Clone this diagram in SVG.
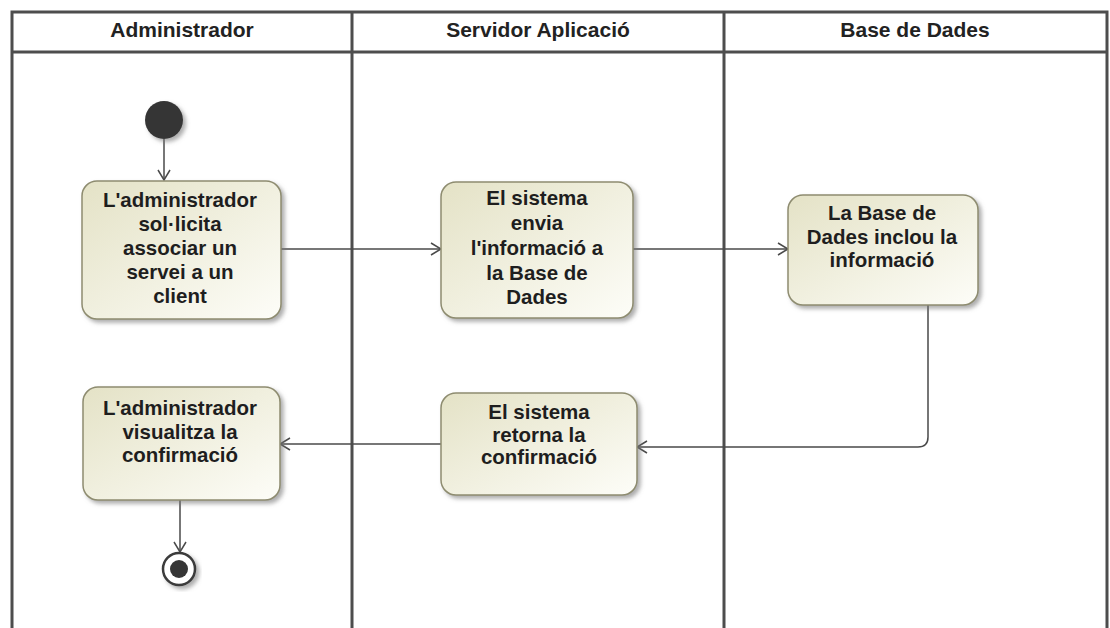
<svg xmlns="http://www.w3.org/2000/svg" width="1110" height="628" viewBox="0 0 1110 628">
<style>
.lane{stroke:#4d4d4d;stroke-width:3;fill:none}
.hdr{font-family:"Liberation Sans",Arial,sans-serif;font-weight:bold;font-size:21px;fill:#222;text-anchor:middle}
.box{fill:url(#g);stroke:#8e8c70;stroke-width:1.5;filter:url(#sh)}
.t{font-family:"Liberation Sans",Arial,sans-serif;font-weight:bold;font-size:20.5px;fill:#1e1e1e;text-anchor:middle}
.c{stroke:#4a4a4a;stroke-width:1.5;fill:none;marker-end:url(#ah)}
</style>
<defs>
<linearGradient id="g" x1="0" y1="0" x2="1" y2="1">
<stop offset="0" stop-color="#e4e2c6"/>
<stop offset="1" stop-color="#fdfdf8"/>
</linearGradient>
<filter id="sh" x="-10%" y="-10%" width="130%" height="130%">
<feDropShadow dx="3" dy="3" stdDeviation="2" flood-color="#777" flood-opacity="0.6"/>
</filter>
<marker id="ah" viewBox="0 0 12 14" refX="11" refY="7" markerWidth="12" markerHeight="14" markerUnits="userSpaceOnUse" orient="auto">
<path d="M1,1 L11,7 L1,13" fill="none" stroke="#4a4a4a" stroke-width="1.5"/>
</marker>
</defs>
<rect width="1110" height="628" fill="#fff"/>
<g id="lanes">
<path class="lane" d="M12,628 V12 H1107 V628 M12,52 H1107 M352,12 V628 M724,12 V628"/>
<text class="hdr" x="182" y="37">Administrador</text>
<text class="hdr" x="538" y="37">Servidor Aplicació</text>
<text class="hdr" x="915" y="37">Base de Dades</text>
</g>
<g id="connectors">
<line class="c" x1="164" y1="139" x2="164" y2="180"/>
<line class="c" x1="281" y1="249" x2="441" y2="249"/>
<line class="c" x1="633" y1="249" x2="788" y2="249"/>
<path class="c" d="M928,305 V437 Q928,447 918,447 H637"/>
<line class="c" x1="441" y1="444" x2="280" y2="444"/>
<line class="c" x1="180" y1="500" x2="180" y2="552"/>
</g>
<g id="start">
<circle cx="164" cy="120" r="19" fill="#363636" filter="url(#sh)"/>
</g>
<g id="n1">
<rect class="box" x="82" y="181" width="199" height="138" rx="15"/>
<text class="t" x="180" y="207">L'administrador</text>
<text class="t" x="180" y="231">sol·licita</text>
<text class="t" x="180" y="255">associar un</text>
<text class="t" x="180" y="279">servei a un</text>
<text class="t" x="180" y="303">client</text>
</g>
<g id="n2">
<rect class="box" x="441" y="182" width="192" height="136" rx="15"/>
<text class="t" x="537" y="205">El sistema</text>
<text class="t" x="537" y="230">envia</text>
<text class="t" x="537" y="255">l'informació a</text>
<text class="t" x="537" y="280">la Base de</text>
<text class="t" x="537" y="304">Dades</text>
</g>
<g id="n3">
<rect class="box" x="788" y="195" width="190" height="110" rx="15"/>
<text class="t" x="882" y="220">La Base de</text>
<text class="t" x="882" y="244">Dades inclou la</text>
<text class="t" x="882" y="267">informació</text>
</g>
<g id="n4">
<rect class="box" x="83" y="387" width="197" height="113" rx="15"/>
<text class="t" x="180" y="415">L'administrador</text>
<text class="t" x="180" y="439">visualitza la</text>
<text class="t" x="180" y="462">confirmació</text>
</g>
<g id="n5">
<rect class="box" x="441" y="393" width="196" height="102" rx="15"/>
<text class="t" x="539" y="419">El sistema</text>
<text class="t" x="539" y="442">retorna la</text>
<text class="t" x="539" y="464">confirmació</text>
</g>
<g id="end">
<circle cx="179" cy="569" r="16" fill="#fff" stroke="#3a3a3a" stroke-width="2.5" filter="url(#sh)"/>
<circle cx="179" cy="569" r="9" fill="#363636"/>
</g>
</svg>
